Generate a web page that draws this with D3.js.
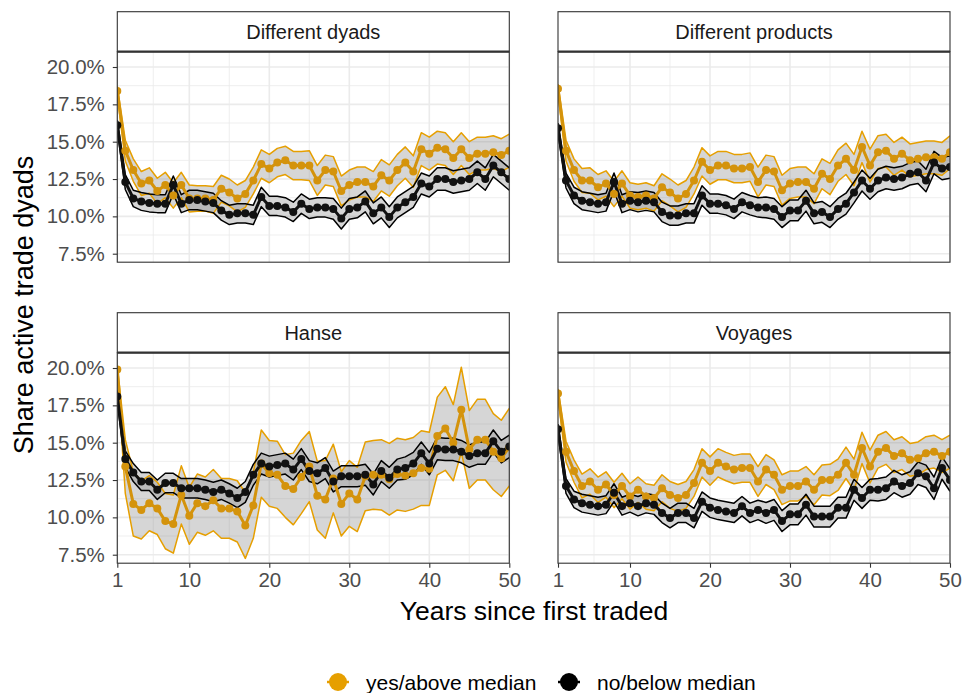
<!DOCTYPE html>
<html>
<head>
<meta charset="utf-8">
<script src="https://cdn.jsdelivr.net/npm/d3@7"></script>
<style>
  body { margin: 0; background: #fff; }
  text { font-family: "Liberation Sans", Arial, sans-serif; }
</style>
</head>
<body>
<svg id="chart" width="963" height="693"></svg>
<script>
// ---- data (share of active trade dyads, %) ----
const years = [1,2,3,4,5,6,7,8,9,10,11,12,13,14,15,16,17,18,19,20,21,22,23,24,25,
               26,27,28,29,30,31,32,33,34,35,36,37,38,39,40,41,42,43,44,45,46,47,48,49,50];
const xTicks = [1, 10, 20, 30, 40, 50];
const yTicks = [7.5, 10, 12.5, 15, 17.5, 20];
const facetNames = ["Different dyads", "Different products", "Hanse", "Voyages"];
const groupNames = ["yes/above median", "no/below median"];

// Different dyads
const dyadsYesMean = [18.4,14.4,13.1,12.2,12.4,11.7,12.1,11.4,12.1,11.2,11.2,11.2,11.1,11.85,11.6,11.2,11.5,12.4,13.5,13.2,13.6,13.75,13.4,13.4,13.4,12.4,13.1,13.0,11.7,12.1,12.3,12.3,12.0,12.75,12.4,13.1,13.6,13.0,14.5,14.2,14.6,14.5,13.9,14.5,13.9,14.2,14.2,14.3,14.1,14.4];
const dyadsYesCi   = [0.3,0.7,0.75,0.8,0.85,0.85,0.85,0.85,0.85,0.9,0.85,0.85,0.9,0.9,0.9,0.9,0.9,0.9,0.95,0.95,0.95,0.95,0.95,0.95,1.0,1.0,1.0,1.0,1.0,1.0,1.0,1.0,1.0,1.05,1.05,1.05,1.05,1.05,1.1,1.1,1.1,1.1,1.1,1.1,1.1,1.1,1.1,1.1,1.1,1.1];
const dyadsNoMean  = [16.1,12.3,11.2,11.0,10.9,10.85,10.85,12.1,10.85,11.1,11.1,11.0,10.9,10.4,10.1,10.2,10.2,10.1,11.3,10.7,10.7,10.6,10.3,10.85,10.5,10.6,10.6,10.5,9.85,10.5,10.6,11.0,10.2,10.6,9.95,10.6,10.95,11.3,12.2,12.0,12.5,12.5,12.3,12.4,12.5,12.95,12.5,13.4,12.95,12.5];
const dyadsNoCi    = [0.35,0.5,0.55,0.6,0.6,0.6,0.6,0.6,0.6,0.65,0.65,0.65,0.65,0.65,0.65,0.65,0.65,0.65,0.65,0.65,0.65,0.65,0.65,0.65,0.65,0.65,0.65,0.7,0.7,0.7,0.7,0.7,0.7,0.7,0.7,0.7,0.7,0.7,0.7,0.7,0.75,0.75,0.75,0.75,0.75,0.75,0.75,0.75,0.75,0.75];

// Different products
const productsYesMean = [18.55,14.4,13.1,12.4,12.4,11.95,12.2,11.5,12.2,11.4,11.3,11.4,11.2,11.95,11.6,11.2,11.5,12.4,13.65,13.1,13.4,13.4,13.2,13.2,13.3,12.3,13.1,13.0,11.75,12.2,12.3,12.3,11.85,12.85,12.5,13.4,13.85,13.1,14.65,13.4,14.3,14.4,13.85,14.2,13.75,13.85,13.95,13.95,13.85,14.3];
const productsYesCi   = [0.3,0.7,0.75,0.8,0.85,0.85,0.85,0.85,0.85,0.85,0.85,0.85,0.85,0.9,0.9,0.9,0.9,0.9,0.95,0.95,0.95,0.95,0.95,0.95,0.95,1.0,1.0,1.0,1.0,1.0,1.0,1.0,1.0,1.0,1.05,1.05,1.05,1.05,1.05,1.1,1.1,1.1,1.1,1.1,1.1,1.1,1.1,1.1,1.1,1.1];
const productsNoMean  = [15.9,12.4,11.4,11.05,10.95,10.85,10.95,12.3,10.85,11.05,10.95,11.05,10.95,10.3,10.05,10.05,10.2,10.2,11.4,10.85,10.85,10.75,10.5,10.95,10.75,10.6,10.6,10.5,9.95,10.4,10.4,11.05,10.2,10.3,9.95,10.5,10.85,11.6,12.4,11.85,12.4,12.6,12.5,12.6,12.85,12.95,12.4,13.6,13.2,13.3];
const productsNoCi    = [0.35,0.5,0.55,0.6,0.6,0.6,0.6,0.6,0.6,0.6,0.65,0.65,0.65,0.65,0.65,0.65,0.65,0.65,0.65,0.65,0.65,0.65,0.65,0.65,0.65,0.65,0.7,0.7,0.7,0.7,0.7,0.7,0.7,0.7,0.7,0.7,0.7,0.7,0.7,0.7,0.75,0.75,0.75,0.75,0.75,0.75,0.75,0.75,0.75,0.75];

// Hanse
const hanseYesMean = [19.9,13.4,10.9,10.5,10.95,10.6,9.75,9.55,11.5,10.1,10.95,10.75,11.15,10.6,10.6,10.4,9.45,10.8,13.6,12.95,12.85,12.1,11.9,12.7,13.4,11.45,11.2,12.6,10.9,11.6,11.2,12.75,12.85,12.85,12.55,12.9,12.8,12.95,13.3,13.25,15.45,15.95,15.0,17.2,14.55,15.2,15.2,14.4,13.95,14.7];
const hanseYesCi   = [0.2,1.8,2.15,1.95,1.85,1.75,1.85,1.95,1.95,1.9,1.95,1.95,2.05,2.0,2.0,2.05,2.2,2.2,2.25,2.2,2.25,2.1,2.4,2.45,2.35,2.3,2.6,2.3,2.15,2.2,2.15,2.3,2.3,2.35,2.4,2.4,2.4,2.4,2.5,2.45,2.6,2.8,2.55,2.85,2.6,2.7,2.7,2.55,2.55,2.6];
const hanseNoMean  = [18.1,13.9,13.0,12.4,12.4,11.85,12.3,12.3,11.95,11.95,11.95,11.85,11.7,11.85,11.6,11.3,11.7,12.85,13.6,13.4,13.5,13.6,13.2,13.9,13.1,12.95,13.3,12.4,12.75,12.75,12.75,12.85,12.2,13.1,12.65,13.2,13.3,13.6,14.3,13.6,14.6,14.55,14.55,14.4,14.1,14.3,14.3,15.1,14.4,14.75];
const hanseNoCi    = [0.4,0.55,0.6,0.6,0.6,0.65,0.65,0.65,0.65,0.65,0.65,0.65,0.65,0.65,0.65,0.65,0.7,0.7,0.7,0.7,0.7,0.7,0.7,0.7,0.7,0.7,0.7,0.7,0.7,0.7,0.7,0.7,0.7,0.7,0.7,0.7,0.75,0.75,0.75,0.75,0.75,0.75,0.75,0.75,0.75,0.75,0.75,0.75,0.75,0.75];

// Voyages
const voyagesYesMean = [18.3,14.4,13.1,12.1,12.4,11.85,12.2,11.5,12.1,11.4,11.85,11.4,11.3,11.95,11.5,11.3,11.5,12.3,13.65,13.1,13.65,13.4,13.2,13.3,13.3,12.4,13.2,12.85,11.85,12.1,12.1,12.4,11.85,12.5,12.5,12.85,13.65,12.85,14.65,13.4,14.4,14.65,14.1,14.3,13.85,13.95,14.3,14.4,14.1,14.4];
const voyagesYesCi   = [0.3,0.7,0.75,0.8,0.85,0.85,0.85,0.85,0.85,0.85,0.85,0.85,0.85,0.9,0.9,0.9,0.9,0.9,0.95,0.95,0.95,0.95,0.95,0.95,0.95,1.0,1.0,1.0,1.0,1.0,1.0,1.0,1.0,1.0,1.05,1.05,1.05,1.05,1.05,1.1,1.1,1.1,1.1,1.1,1.1,1.1,1.1,1.1,1.1,1.1];
const voyagesNoMean  = [15.9,12.1,11.2,10.95,10.85,10.75,10.85,11.65,10.75,10.95,10.75,10.95,10.85,10.3,9.95,10.3,10.3,9.95,11.05,10.65,10.5,10.4,10.3,10.75,10.3,10.5,10.3,10.5,9.75,10.2,10.2,10.85,10.05,10.05,10.05,10.65,10.65,11.85,11.3,11.85,11.85,11.95,12.4,12.1,12.3,12.95,12.75,11.95,13.3,12.5];
const voyagesNoCi    = [0.35,0.5,0.55,0.6,0.6,0.6,0.6,0.6,0.6,0.6,0.65,0.65,0.65,0.65,0.65,0.65,0.65,0.65,0.65,0.65,0.65,0.65,0.65,0.65,0.65,0.65,0.7,0.7,0.7,0.7,0.7,0.7,0.7,0.7,0.7,0.7,0.7,0.7,0.7,0.7,0.75,0.75,0.75,0.75,0.75,0.75,0.75,0.75,0.75,0.75];

const facetSeries = [
  [[dyadsYesMean, dyadsYesCi], [dyadsNoMean, dyadsNoCi]],
  [[productsYesMean, productsYesCi], [productsNoMean, productsNoCi]],
  [[hanseYesMean, hanseYesCi], [hanseNoMean, hanseNoCi]],
  [[voyagesYesMean, voyagesYesCi], [voyagesNoMean, voyagesNoCi]]
];

// ---- layout ----
const colX = [117.3, 558], rowY = [11.7, 312.7];
const stripH = 40, panelW = 392, panelH = 210.5;
const edgeColors = ["#E69F00", "#000000"];
const meanColors = ["#D4930C", "#111111"];

const svg = d3.select("#chart");

const x = d3.scaleLinear().domain([1, 50]).range([0, panelW]);
const y = d3.scaleLinear().domain([7.5, 20]).range([202, 15.3]);

const xMinor = [5.5, 15, 25, 35, 45];
const yMinor = [8.75, 11.25, 13.75, 16.25, 18.75];

facetNames.forEach((name, i) => {
  const col = i % 2, row = Math.floor(i / 2);
  const g = svg.append("g").attr("transform", `translate(${colX[col]},${rowY[row]})`);

  // strip
  g.append("rect").attr("width", panelW).attr("height", stripH)
    .attr("fill", "#fff").attr("stroke", "#333").attr("stroke-width", 1.1);
  g.append("text").attr("x", panelW / 2).attr("y", 27.5)
    .attr("text-anchor", "middle").attr("fill", "#1a1a1a")
    .style("font-size", "20px").text(name);

  const p = g.append("g").attr("transform", `translate(0,${stripH})`);
  p.append("rect").attr("width", panelW).attr("height", panelH).attr("fill", "#fff");

  // grid
  p.selectAll(".gyn").data(yMinor).enter().append("line")
    .attr("x1", 0).attr("x2", panelW).attr("y1", d => y(d)).attr("y2", d => y(d))
    .attr("stroke", "#EBEBEB").attr("stroke-width", 0.8);
  p.selectAll(".gxn").data(xMinor).enter().append("line")
    .attr("y1", 0).attr("y2", panelH).attr("x1", d => x(d)).attr("x2", d => x(d))
    .attr("stroke", "#EBEBEB").attr("stroke-width", 0.8);
  p.selectAll(".gy").data(yTicks).enter().append("line")
    .attr("x1", 0).attr("x2", panelW).attr("y1", d => y(d)).attr("y2", d => y(d))
    .attr("stroke", "#EBEBEB").attr("stroke-width", 1.6);
  p.selectAll(".gx").data(xTicks).enter().append("line")
    .attr("y1", 0).attr("y2", panelH).attr("x1", d => x(d)).attr("x2", d => x(d))
    .attr("stroke", "#EBEBEB").attr("stroke-width", 1.6);

  const clipId = "clip" + i;
  p.append("clipPath").attr("id", clipId).append("rect")
    .attr("width", panelW).attr("height", panelH);
  const c = p.append("g").attr("clip-path", `url(#${clipId})`);

  const series = facetSeries[i].map(([mean, ci]) =>
    years.map((t, k) => ({ t: t, m: mean[k], lo: mean[k] - ci[k], hi: mean[k] + ci[k] })));

  const area = d3.area().x(d => x(d.t)).y0(d => y(d.lo)).y1(d => y(d.hi));
  const lineLo = d3.line().x(d => x(d.t)).y(d => y(d.lo));
  const lineHi = d3.line().x(d => x(d.t)).y(d => y(d.hi));
  const lineM = d3.line().x(d => x(d.t)).y(d => y(d.m));

  series.forEach(s => {
    c.append("path").datum(s).attr("d", area)
      .attr("fill", "#7f7f7f").attr("fill-opacity", 0.32);
  });
  series.forEach((s, j) => {
    [lineLo, lineHi].forEach(fn => {
      c.append("path").datum(s).attr("d", fn).attr("fill", "none")
        .attr("stroke", edgeColors[j]).attr("stroke-width", 1.5)
        .attr("stroke-linejoin", "round");
    });
  });
  series.forEach((s, j) => {
    c.append("path").datum(s).attr("d", lineM).attr("fill", "none")
      .attr("stroke", meanColors[j]).attr("stroke-width", 3)
      .attr("stroke-linejoin", "round");
  });
  series.forEach((s, j) => {
    c.selectAll(".pt" + j).data(s).enter().append("circle")
      .attr("cx", d => x(d.t)).attr("cy", d => y(d.m)).attr("r", 4)
      .attr("fill", meanColors[j]);
  });

  // panel border and the heavier strip/panel seam
  p.append("rect").attr("width", panelW).attr("height", panelH)
    .attr("fill", "none").attr("stroke", "#333").attr("stroke-width", 1.1);
  g.append("line").attr("x1", 0).attr("x2", panelW).attr("y1", stripH).attr("y2", stripH)
    .attr("stroke", "#333").attr("stroke-width", 2.3);

  if (col === 0) {
    const ay = p.append("g")
      .call(d3.axisLeft(y).tickValues(yTicks).tickSize(4.5).tickPadding(8)
        .tickFormat(d => d3.format(".1f")(d) + "%"));
    ay.select(".domain").remove();
    ay.selectAll("line").attr("stroke", "#333").attr("stroke-width", 1.1);
    ay.selectAll("text").attr("fill", "#4D4D4D").style("font-size", "20.5px")
      .attr("font-family", null);
  }
  if (row === 1) {
    const ax = p.append("g").attr("transform", `translate(0,${panelH})`)
      .call(d3.axisBottom(x).tickValues(xTicks).tickSize(4.5).tickPadding(5));
    ax.select(".domain").remove();
    ax.selectAll("line").attr("stroke", "#333").attr("stroke-width", 1.1);
    ax.selectAll("text").attr("fill", "#4D4D4D").style("font-size", "20.5px")
      .attr("font-family", null);
  }
});

// axis titles
svg.append("text").attr("x", 534).attr("y", 620).attr("text-anchor", "middle")
  .attr("fill", "#000").style("font-size", "26.5px").text("Years since first traded");
svg.append("text").attr("transform", "translate(33,305) rotate(-90)")
  .attr("text-anchor", "middle").attr("fill", "#000").style("font-size", "27px")
  .text("Share active trade dyads");

// legend
const legendX = [338, 569];
groupNames.forEach((name, j) => {
  const lg = svg.append("g").attr("transform", `translate(${legendX[j]},682)`);
  lg.append("line").attr("x1", -11).attr("x2", 11).attr("stroke", edgeColors[j]).attr("stroke-width", 2.5);
  lg.append("circle").attr("r", 9).attr("fill", edgeColors[j]);
  lg.append("text").attr("x", 28).attr("y", 7.5).attr("fill", "#000")
    .style("font-size", "21px").text(name);
});
</script>
</body>
</html>
